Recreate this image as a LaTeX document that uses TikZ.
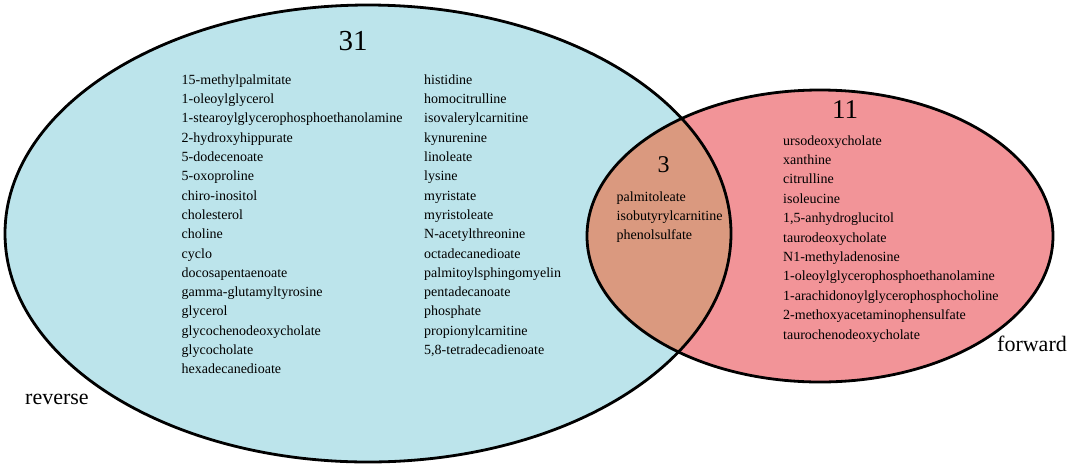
\documentclass[tikz,border=0pt]{standalone}
\usepackage{fontspec}
\setmainfont{Liberation Serif}
\definecolor{revblue}{RGB}{188,228,235}
\definecolor{fwdred}{RGB}{242,148,152}
\definecolor{bothbrown}{RGB}{218,153,127}

\begin{document}
\begin{tikzpicture}
[x=1pt,y=-1pt,%
  every node/.style={inner sep=0pt,anchor=base west},%
  item/.style={font=\fontsize{14}{17}\selectfont},%
  count/.style={anchor=base,font=\fontsize{29}{34}\selectfont},%
  side/.style={font=\fontsize{22}{26}\selectfont}]
\useasboundingbox (0,0) rectangle (1072,467);
% the two sets
\fill[revblue] (368,233.5) ellipse [x radius=363,y radius=228.5];
\fill[fwdred] (820,236) ellipse [x radius=233,y radius=146];
\begin{scope}
  \clip (368,233.5) ellipse [x radius=363,y radius=228.5];
  \fill[bothbrown] (820,236) ellipse [x radius=233,y radius=146];
\end{scope}
\draw[line width=2.8pt] (368,233.5) ellipse [x radius=363,y radius=228.5];
\draw[line width=2.8pt] (820,236) ellipse [x radius=233,y radius=146];
% counts and set names
\node[count] (n31) at (353,50) {31};
\node[count,font=\fontsize{27}{32}\selectfont] (n11) at (845,118) {11};
\node[count,font=\fontsize{24}{28}\selectfont] (n3) at (663.5,172) {3};
\node[side] (reverse) at (25,404) {reverse};
\node[side] (forward) at (997,351.5) {forward};
% reverse only
\foreach \name [count=\i] in {15-methylpalmitate,1-oleoylglycerol,
    1-stearoylglycerophosphoethanolamine,2-hydroxyhippurate,5-dodecenoate,
    5-oxoproline,chiro-inositol,cholesterol,choline,cyclo,docosapentaenoate,
    gamma-glutamyltyrosine,glycerol,glycochenodeoxycholate,glycocholate,
    hexadecanedioate}
  \node[item] (revA\i) at (181.5,84.3+19.3*\i-19.3) {\name};
\foreach \name [count=\i] in {histidine,homocitrulline,isovalerylcarnitine,
    kynurenine,linoleate,lysine,myristate,myristoleate,N-acetylthreonine,
    octadecanedioate,palmitoylsphingomyelin,pentadecanoate,phosphate,
    propionylcarnitine,{5,8-tetradecadienoate}}
  \node[item] (revB\i) at (424,84.3+19.3*\i-19.3) {\name};
% both
\foreach \name [count=\i] in {palmitoleate,isobutyrylcarnitine,phenolsulfate}
  \node[item] (both\i) at (616.5,201.5+19*\i-19) {\name};
% forward only
\foreach \name [count=\i] in {ursodeoxycholate,xanthine,citrulline,isoleucine,
    {1,5-anhydroglucitol},taurodeoxycholate,N1-methyladenosine,
    1-oleoylglycerophosphoethanolamine,1-arachidonoylglycerophosphocholine,
    2-methoxyacetaminophensulfate,taurochenodeoxycholate}
  \node[item] (fwd\i) at (783,145+19.4*\i-19.4) {\name};
\end{tikzpicture}
\end{document}
